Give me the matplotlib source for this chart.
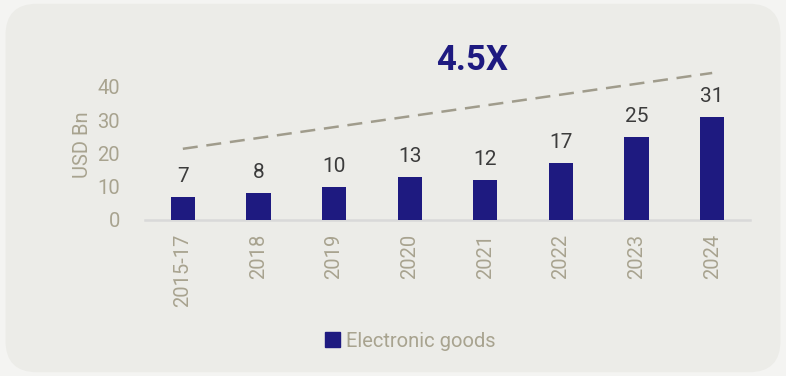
import matplotlib.pyplot as plt
from matplotlib.patches import FancyBboxPatch

years = ["2015-17", "2018", "2019", "2020", "2021", "2022", "2023", "2024"]
values = [7, 8, 10, 13, 12, 17, 25, 31]
trend_start = 21.4
trend_end = 44.2
growth = "4.5X"

NAVY = "#1e1a80"
KHAKI = "#a8a38f"
BG = "#ecece8"

plt.rcParams["font.family"] = ["Roboto", "DejaVu Sans"]

fig = plt.figure(figsize=(7.86, 3.76), dpi=100)
fig.patch.set_facecolor("#f4f4f2")
panel = FancyBboxPatch((0.007, 0.01), 0.986, 0.98, boxstyle="round,pad=0,rounding_size=0.04",
                       transform=fig.transFigure, facecolor=BG, edgecolor="none", zorder=-10,
                       mutation_aspect=786 / 376)
fig.patches.append(panel)

ax = fig.add_axes([0.1845, 0.415, 0.7697, 0.398])
ax.set_facecolor("none")
x = range(len(years))
bars = ax.bar(x, values, width=0.32, color=NAVY, zorder=3)
for xi, v in zip(x, values):
    ax.annotate(str(v), (xi, v), xytext=(0, 8), textcoords="offset points",
                ha="center", va="bottom", fontsize=15, color="#3c3c3c")

ax.plot([0, len(years) - 1], [trend_start, trend_end], color="#a09c8c", lw=1.8,
        dashes=(6, 3.5), clip_on=False)

ax.set_xlim(-0.5, len(years) - 0.5)
ax.set_ylim(0, 45)
ax.set_yticks([0, 10, 20, 30, 40])
ax.set_xticks(list(x))
ax.set_xticklabels(years, rotation=90)
ax.tick_params(axis="both", length=0, colors=KHAKI, labelsize=14.5)
ax.tick_params(axis="x", pad=10)
ax.tick_params(axis="y", pad=18)
for s in ["top", "right", "left"]:
    ax.spines[s].set_visible(False)
ax.spines["bottom"].set_color("#d9d9d9")
ax.spines["bottom"].set_linewidth(1.8)
ax.set_ylabel("USD Bn", color=KHAKI, fontsize=14.5, labelpad=4)

fig.text(0.6, 0.84, growth, ha="center", va="center", fontsize=25, fontweight="bold", color=NAVY)

handle = plt.Rectangle((0, 0), 1, 1, color=NAVY)
fig.legend([handle], ["Electronic goods"], loc="center", bbox_to_anchor=(0.522, 0.093),
           frameon=False, fontsize=14.5, labelcolor=KHAKI, handlelength=0.7, handleheight=0.7,
           handletextpad=0.3)

fig.savefig("out.png", dpi=100, facecolor=fig.get_facecolor())
